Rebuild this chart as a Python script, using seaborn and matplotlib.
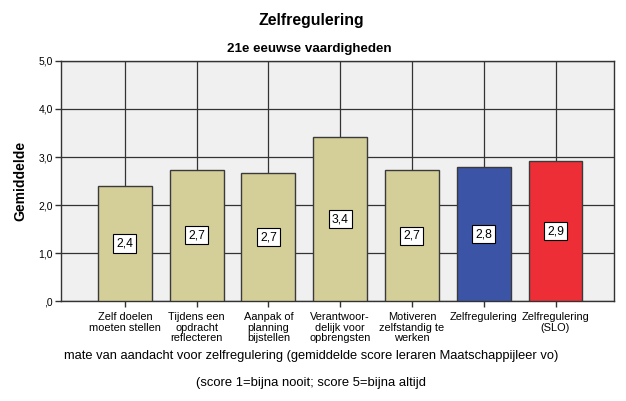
import pandas as pd
import matplotlib.pyplot as plt
import seaborn as sns

# Data
categories = ['Zelf doelen\nmoeten stellen', 'Tijdens een\nopdracht\nreflecteren',
              'Aanpak of\nplanning\nbijstellen', 'Verantwoor-\ndelijk voor\nopbrengsten',
              'Motiveren\nzelfstandig te\nwerken', 'Zelfregulering', 'Zelfregulering\n(SLO)']
means = [2.40, 2.74, 2.67, 3.42, 2.72, 2.79, 2.91]
bar_colors = ['#D4CE98', '#D4CE98', '#D4CE98', '#D4CE98', '#D4CE98', '#3B54A5', '#EE2E36']

data = pd.DataFrame({'cat': categories, 'mean': means})

sns.set_style("ticks")
plt.rcParams['font.family'] = ['Liberation Sans', 'DejaVu Sans']
plt.rcParams['text.color'] = 'black'
plt.rcParams['axes.labelcolor'] = 'black'

fig = plt.figure(figsize=(6.26, 4.01), dpi=100)
ax = fig.add_axes([0.0974, 0.249, 0.884, 0.599])
ax.set_facecolor('#F0F0F0')

sns.barplot(data=data, x='cat', y='mean', hue='cat', palette=bar_colors, legend=False,
            width=0.75, edgecolor='#3A3A3A', linewidth=1.0, saturation=1, ax=ax, zorder=3)

# grid lines behind the bars
ax.grid(True, color='#333333', linewidth=0.9, zorder=0)
ax.set_axisbelow(True)

# value labels in the middle of each bar
for i, v in enumerate(means):
    ax.text(i, v / 2, f"{v:.1f}".replace('.', ','), ha='center', va='center', fontsize=8.7,
            zorder=5, bbox=dict(boxstyle='square,pad=0.25', fc='white', ec='black', lw=0.8))

ax.set_ylim(0, 5)
ax.set_xlim(-0.89, 6.82)
ax.set_yticks([0, 1, 2, 3, 4, 5])
ax.set_yticklabels([',0', '1,0', '2,0', '3,0', '4,0', '5,0'], fontsize=7.5, color='black')
ax.set_xticks(range(7))
ax.set_xticklabels(categories, fontsize=7.9, linespacing=1.05, color='black')
ax.tick_params(axis='both', length=4, width=1, color='#333333', pad=2)
ax.tick_params(axis='x', pad=4)

for s in ax.spines.values():
    s.set_color('#333333')
    s.set_linewidth(1)

ax.set_ylabel('Gemiddelde', fontsize=10, fontweight='bold', labelpad=8)
ax.set_xlabel('')

# titles and footnote text
fig.text(0.498, 0.948, 'Zelfregulering', ha='center', va='center', fontsize=11.4, fontweight='bold')
fig.text(0.494, 0.878, '21e eeuwse vaardigheden', ha='center', va='center', fontsize=9.6, fontweight='bold')
fig.text(0.497, 0.112, 'mate van aandacht voor zelfregulering (gemiddelde score leraren Maatschappijleer vo)',
         ha='center', va='center', fontsize=9.3)
fig.text(0.497, 0.045, '(score 1=bijna nooit; score 5=bijna altijd', ha='center', va='center', fontsize=9.4)

plt.savefig("out.png", dpi=100)
